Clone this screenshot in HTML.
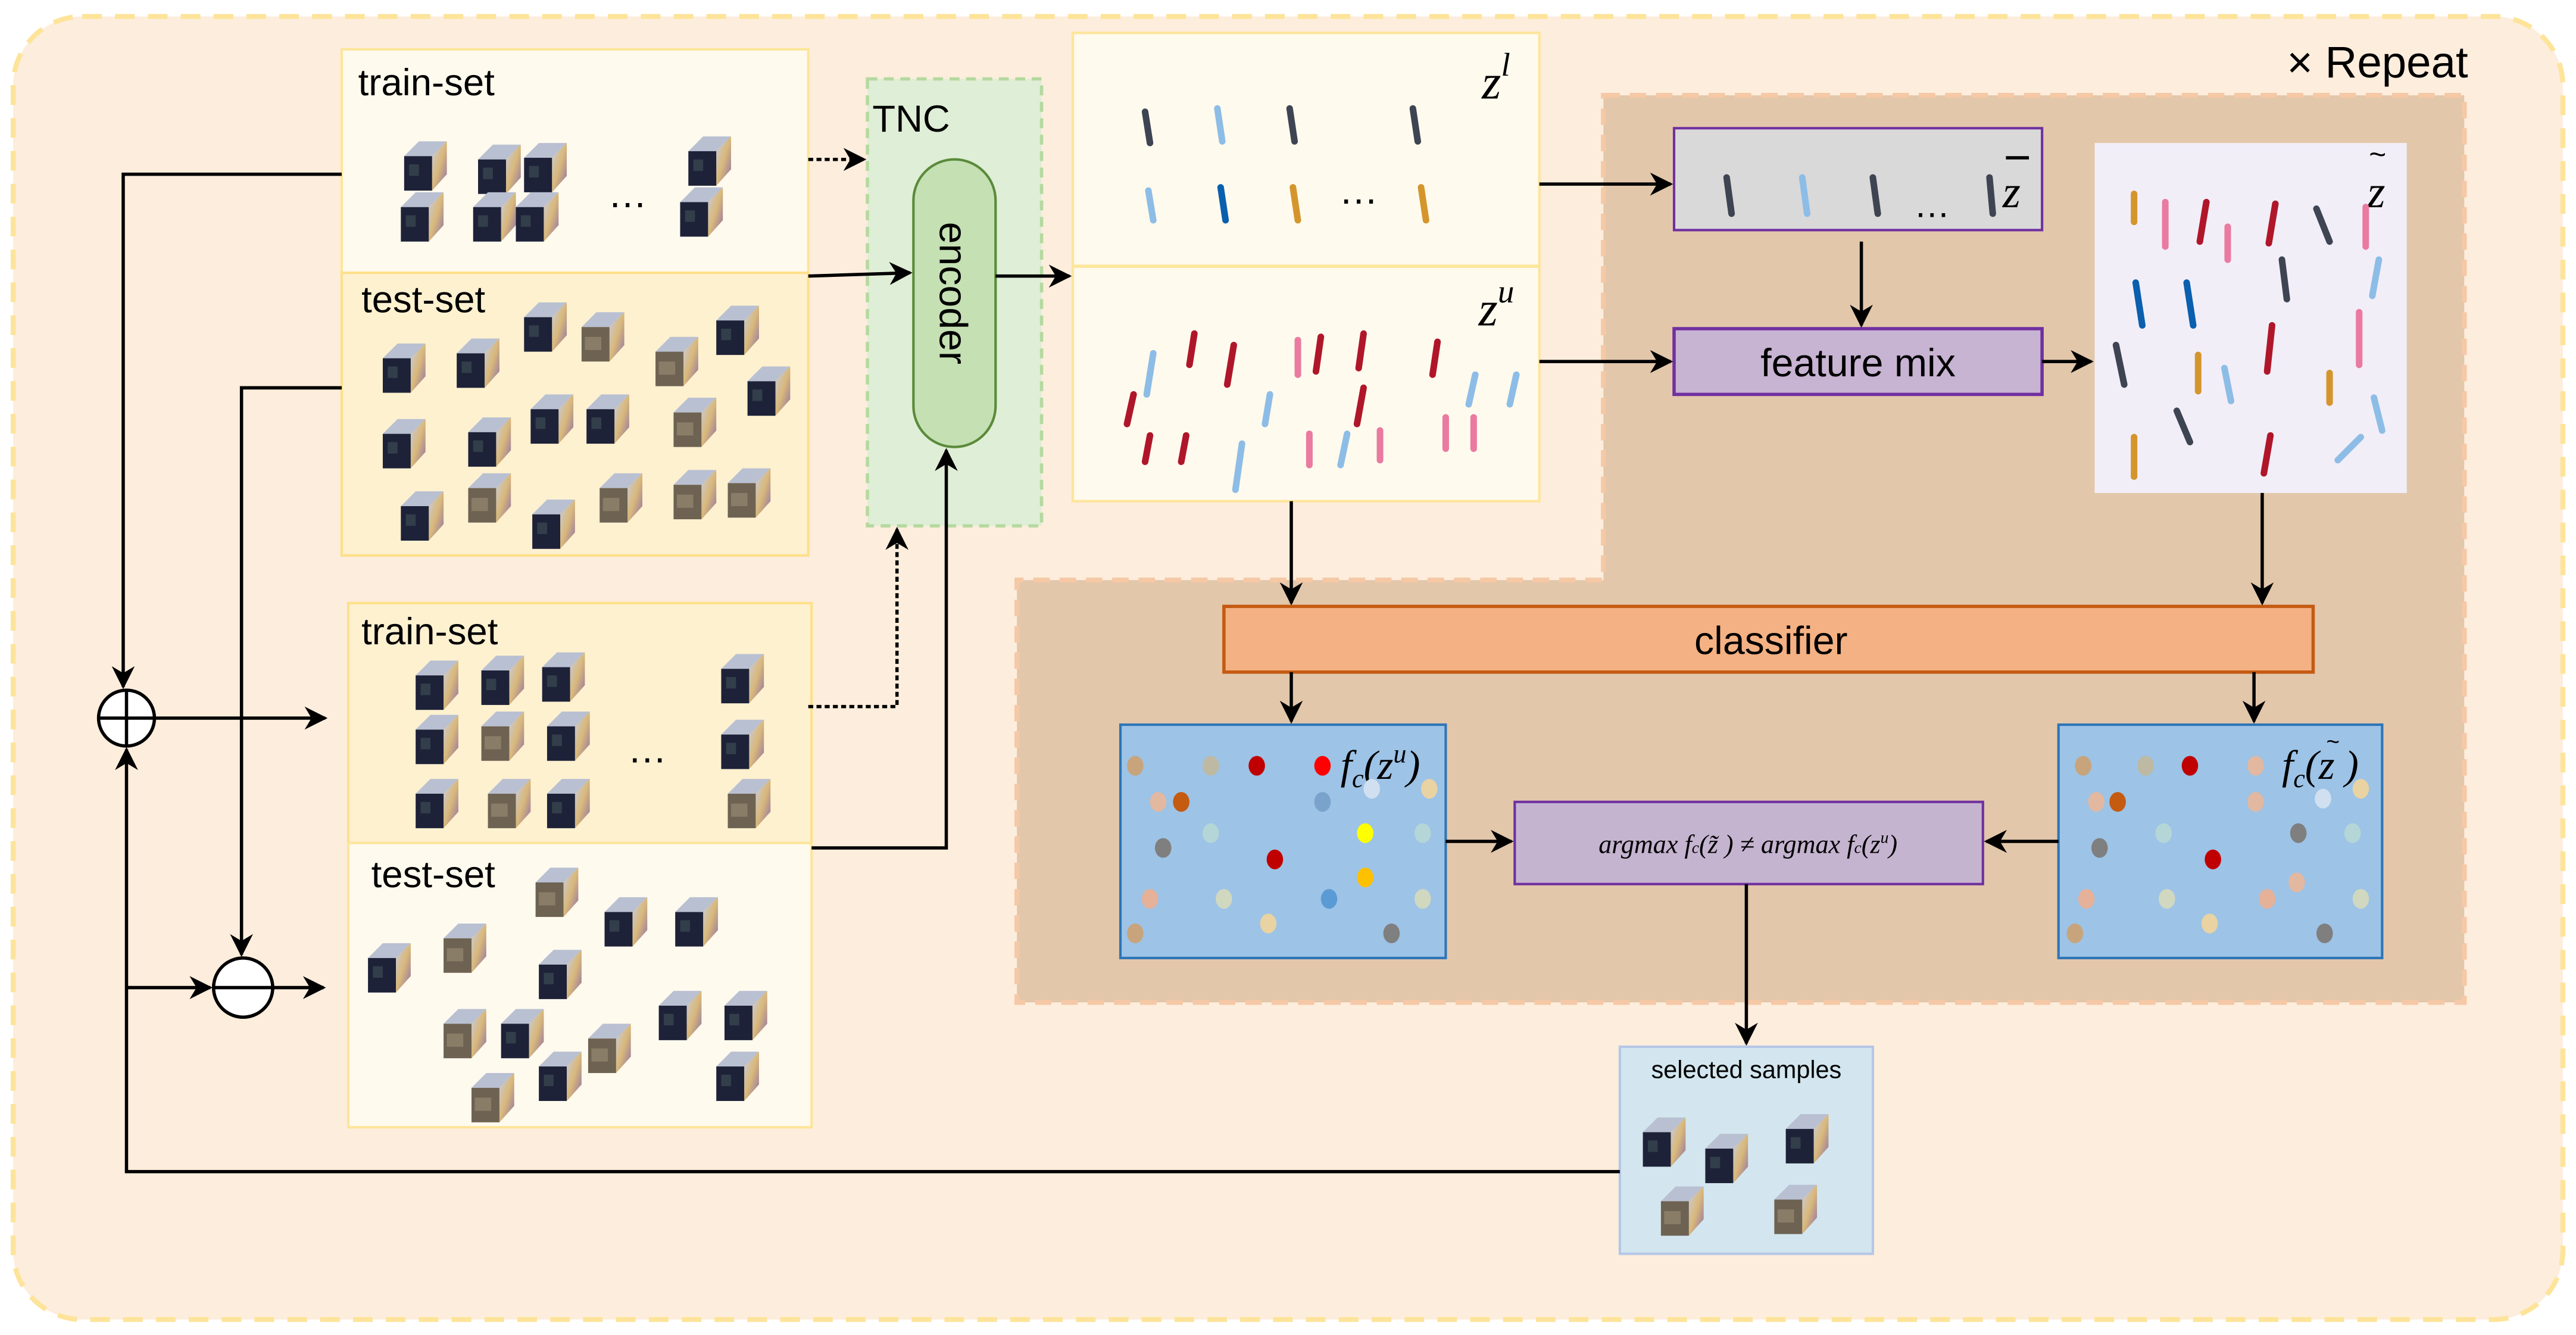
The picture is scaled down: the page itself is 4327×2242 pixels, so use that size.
<!DOCTYPE html>
<html><head><meta charset="utf-8">
<style>
html,body{margin:0;padding:0;background:#fff;}
svg{display:block;}
text{font-family:"Liberation Sans",sans-serif;}
.m{font-family:"Liberation Serif",serif;font-style:italic;}
</style></head>
<body>
<svg width="4327" height="2242" viewBox="0 0 1568 812.4" xmlns="http://www.w3.org/2000/svg">
<defs>
<linearGradient id="sg" x1="0" y1="0" x2="1" y2="1">
<stop offset="0" stop-color="#c8cde0"/><stop offset="0.5" stop-color="#d9b87a"/><stop offset="1" stop-color="#8c6ea8"/>
</linearGradient>
<symbol id="c" viewBox="0 0 26 30" overflow="visible">
<polygon points="0,9 9,0 26,0 17,9" fill="#b9c0d2"/>
<polygon points="17,9 26,0 26,20 17,30" fill="url(#sg)"/>
<rect x="0" y="9" width="17" height="21" fill="#1d2238"/>
<rect x="3" y="14" width="6" height="7" fill="#3c4a52" opacity="0.7"/>
</symbol>
<symbol id="cb" viewBox="0 0 26 30" overflow="visible">
<polygon points="0,9 9,0 26,0 17,9" fill="#b9c0d2"/>
<polygon points="17,9 26,0 26,20 17,30" fill="url(#sg)"/>
<rect x="0" y="9" width="17" height="21" fill="#6e6252"/>
<rect x="2" y="15" width="10" height="8" fill="#8a7d68"/>
</symbol>
<marker id="a" viewBox="0 0 10 10" refX="9" refY="5" markerWidth="7" markerHeight="7" orient="auto-start-reverse"><path d="M0,0 L10,5 L0,10 L3,5z" fill="#000"/></marker>
</defs>

<rect x="8" y="10" width="1552" height="793" rx="42" fill="#fdeddc" stroke="#fde49a" stroke-width="3" stroke-dasharray="12,8"/>
<text x="1392" y="47" font-size="27">× Repeat</text>

<path d="M976,58 H1500 V610 H619 V353 H976 Z" fill="#e2c7ab" stroke="#f5c8a6" stroke-width="3" stroke-dasharray="10,6"/>

<rect x="208" y="30" width="284" height="136" fill="#fffaee" stroke="#fde59a" stroke-width="1.5"/>
<text x="218" y="58" font-size="23">train-set</text>
<rect x="208" y="166" width="284" height="172" fill="#fef1d0" stroke="#fde08a" stroke-width="1.5"/>
<text x="220" y="190" font-size="23">test-set</text>
<rect x="212" y="367" width="282" height="146" fill="#fef1d0" stroke="#fde08a" stroke-width="1.5"/>
<text x="220" y="392" font-size="23">train-set</text>
<rect x="212" y="513" width="282" height="173" fill="#fffaee" stroke="#fde59a" stroke-width="1.5"/>
<text x="226" y="540" font-size="23">test-set</text>

<use href="#c" x="246" y="86" width="26" height="30"/>
<use href="#c" x="291" y="88" width="26" height="30"/>
<use href="#c" x="319" y="87" width="26" height="30"/>
<use href="#c" x="419" y="83" width="26" height="30"/>
<use href="#c" x="244" y="117" width="26" height="30"/>
<use href="#c" x="288" y="117" width="26" height="30"/>
<use href="#c" x="314" y="117" width="26" height="30"/>
<use href="#c" x="414" y="114" width="26" height="30"/>
<text x="370" y="126" font-size="24">…</text>
<use href="#c" x="233" y="209" width="26" height="30"/>
<use href="#c" x="278" y="206" width="26" height="30"/>
<use href="#c" x="319" y="184" width="26" height="30"/>
<use href="#cb" x="354" y="190" width="26" height="30"/>
<use href="#cb" x="399" y="205" width="26" height="30"/>
<use href="#c" x="436" y="186" width="26" height="30"/>
<use href="#c" x="233" y="255" width="26" height="30"/>
<use href="#c" x="285" y="254" width="26" height="30"/>
<use href="#c" x="323" y="240" width="26" height="30"/>
<use href="#c" x="357" y="240" width="26" height="30"/>
<use href="#cb" x="410" y="242" width="26" height="30"/>
<use href="#c" x="455" y="223" width="26" height="30"/>
<use href="#c" x="244" y="299" width="26" height="30"/>
<use href="#cb" x="285" y="288" width="26" height="30"/>
<use href="#c" x="324" y="304" width="26" height="30"/>
<use href="#cb" x="365" y="288" width="26" height="30"/>
<use href="#cb" x="410" y="286" width="26" height="30"/>
<use href="#cb" x="443" y="285" width="26" height="30"/>
<use href="#c" x="253" y="402" width="26" height="30"/>
<use href="#c" x="293" y="399" width="26" height="30"/>
<use href="#c" x="330" y="397" width="26" height="30"/>
<use href="#c" x="439" y="398" width="26" height="30"/>
<use href="#c" x="253" y="435" width="26" height="30"/>
<use href="#cb" x="293" y="433" width="26" height="30"/>
<use href="#c" x="333" y="433" width="26" height="30"/>
<use href="#c" x="439" y="438" width="26" height="30"/>
<use href="#c" x="253" y="474" width="26" height="30"/>
<use href="#cb" x="297" y="474" width="26" height="30"/>
<use href="#c" x="333" y="474" width="26" height="30"/>
<use href="#cb" x="443" y="474" width="26" height="30"/>
<text x="382" y="464" font-size="24">…</text>
<use href="#cb" x="326" y="528" width="26" height="30"/>
<use href="#c" x="368" y="546" width="26" height="30"/>
<use href="#c" x="411" y="546" width="26" height="30"/>
<use href="#c" x="224" y="574" width="26" height="30"/>
<use href="#cb" x="270" y="562" width="26" height="30"/>
<use href="#c" x="328" y="578" width="26" height="30"/>
<use href="#c" x="401" y="603" width="26" height="30"/>
<use href="#c" x="441" y="603" width="26" height="30"/>
<use href="#cb" x="270" y="614" width="26" height="30"/>
<use href="#c" x="305" y="614" width="26" height="30"/>
<use href="#cb" x="358" y="623" width="26" height="30"/>
<use href="#c" x="328" y="640" width="26" height="30"/>
<use href="#cb" x="287" y="653" width="26" height="30"/>
<use href="#c" x="436" y="640" width="26" height="30"/>

<rect x="528" y="48" width="106" height="272" fill="#dfeed6" stroke="#b5d9a0" stroke-width="2" stroke-dasharray="6,4"/>
<text x="531" y="80" font-size="23">TNC</text>
<rect x="556" y="97" width="50" height="175" rx="25" fill="#c5e0b3" stroke="#5a8a3a" stroke-width="1.5"/>
<text x="0" y="0" font-size="24" transform="translate(572,135) rotate(90)">encoder</text>

<rect x="653" y="20" width="284" height="285" fill="#fffaee" stroke="#fde59a" stroke-width="1.5"/>
<line x1="653" y1="162" x2="937" y2="162" stroke="#fde59a" stroke-width="2"/>
<text x="902" y="60" font-size="30" class="m">z<tspan font-size="20" dy="-14">l</tspan></text>
<text x="900" y="198" font-size="30" class="m">z<tspan font-size="20" dy="-14">u</tspan></text>
<text x="815" y="124" font-size="24">…</text>
<g stroke-width="4" stroke-linecap="round">
<line x1="697" y1="68" x2="700" y2="87" stroke="#3e4452"/>
<line x1="741" y1="66" x2="744" y2="86" stroke="#8dbde6"/>
<line x1="785" y1="66" x2="788" y2="86" stroke="#3e4452"/>
<line x1="860" y1="66" x2="863" y2="86" stroke="#3e4452"/>
<line x1="699" y1="116" x2="702" y2="134" stroke="#8dbde6"/>
<line x1="743" y1="114" x2="746" y2="134" stroke="#0a5fae"/>
<line x1="787" y1="114" x2="790" y2="134" stroke="#d4962c"/>
<line x1="865" y1="114" x2="868" y2="134" stroke="#d4962c"/>
<line x1="702" y1="215" x2="698" y2="240" stroke="#8dbde6"/>
<line x1="727" y1="203" x2="724" y2="222" stroke="#b0162a"/>
<line x1="751" y1="210" x2="747" y2="234" stroke="#b0162a"/>
<line x1="790" y1="207" x2="790" y2="228" stroke="#ea7aa0"/>
<line x1="804" y1="205" x2="801" y2="226" stroke="#b0162a"/>
<line x1="830" y1="203" x2="827" y2="224" stroke="#b0162a"/>
<line x1="875" y1="208" x2="872" y2="228" stroke="#b0162a"/>
<line x1="690" y1="240" x2="686" y2="258" stroke="#b0162a"/>
<line x1="773" y1="240" x2="770" y2="258" stroke="#8dbde6"/>
<line x1="830" y1="236" x2="826" y2="258" stroke="#b0162a"/>
<line x1="898" y1="228" x2="894" y2="246" stroke="#8dbde6"/>
<line x1="923" y1="228" x2="919" y2="246" stroke="#8dbde6"/>
<line x1="700" y1="265" x2="697" y2="281" stroke="#b0162a"/>
<line x1="722" y1="265" x2="719" y2="281" stroke="#b0162a"/>
<line x1="756" y1="270" x2="752" y2="298" stroke="#8dbde6"/>
<line x1="797" y1="264" x2="797" y2="283" stroke="#ea7aa0"/>
<line x1="820" y1="264" x2="816" y2="283" stroke="#8dbde6"/>
<line x1="840" y1="262" x2="840" y2="280" stroke="#ea7aa0"/>
<line x1="880" y1="254" x2="880" y2="273" stroke="#ea7aa0"/>
<line x1="897" y1="254" x2="897" y2="273" stroke="#ea7aa0"/>
</g>

<rect x="1019" y="78" width="224" height="62" fill="#d9d9d9" stroke="#7030a0" stroke-width="1.5"/>
<text x="1219" y="126" font-size="28" class="m">z</text>
<line x1="1221" y1="96" x2="1235" y2="96" stroke="#000" stroke-width="2"/>
<text x="1165" y="132" font-size="22">…</text>
<g stroke-width="4" stroke-linecap="round">
<line x1="1051" y1="108" x2="1054" y2="130" stroke="#3e4452"/>
<line x1="1097" y1="108" x2="1100" y2="130" stroke="#8dbde6"/>
<line x1="1140" y1="108" x2="1143" y2="130" stroke="#3e4452"/>
<line x1="1211" y1="108" x2="1213" y2="130" stroke="#3e4452"/>
</g>
<rect x="1019" y="200" width="224" height="40" fill="#c7b3d2" stroke="#7030a0" stroke-width="2"/>
<text x="1131" y="229" font-size="24" text-anchor="middle">feature mix</text>

<rect x="1275" y="87" width="190" height="213" fill="#f2eef8"/>
<text x="1441" y="126" font-size="28" class="m">z</text>
<text x="1442" y="100" font-size="18">~</text>
<g stroke-width="4" stroke-linecap="round">
<line x1="1299" y1="118" x2="1299" y2="135" stroke="#d4962c"/>
<line x1="1318" y1="123" x2="1318" y2="150" stroke="#ea7aa0"/>
<line x1="1343" y1="123" x2="1339" y2="147" stroke="#b0162a"/>
<line x1="1356" y1="138" x2="1356" y2="158" stroke="#ea7aa0"/>
<line x1="1385" y1="124" x2="1381" y2="148" stroke="#b0162a"/>
<line x1="1410" y1="127" x2="1418" y2="147" stroke="#3e4452"/>
<line x1="1440" y1="126" x2="1440" y2="150" stroke="#ea7aa0"/>
<line x1="1300" y1="172" x2="1304" y2="198" stroke="#0a5fae"/>
<line x1="1331" y1="172" x2="1335" y2="198" stroke="#0a5fae"/>
<line x1="1389" y1="158" x2="1392" y2="182" stroke="#3e4452"/>
<line x1="1448" y1="158" x2="1444" y2="180" stroke="#8dbde6"/>
<line x1="1288" y1="210" x2="1293" y2="234" stroke="#3e4452"/>
<line x1="1338" y1="216" x2="1338" y2="238" stroke="#d4962c"/>
<line x1="1354" y1="224" x2="1358" y2="244" stroke="#8dbde6"/>
<line x1="1383" y1="198" x2="1380" y2="226" stroke="#b0162a"/>
<line x1="1418" y1="227" x2="1418" y2="245" stroke="#d4962c"/>
<line x1="1436" y1="190" x2="1436" y2="222" stroke="#ea7aa0"/>
<line x1="1445" y1="242" x2="1450" y2="262" stroke="#8dbde6"/>
<line x1="1325" y1="250" x2="1333" y2="269" stroke="#3e4452"/>
<line x1="1299" y1="266" x2="1299" y2="290" stroke="#d4962c"/>
<line x1="1382" y1="265" x2="1378" y2="288" stroke="#b0162a"/>
<line x1="1423" y1="280" x2="1437" y2="266" stroke="#8dbde6"/>
</g>

<rect x="745" y="369" width="663" height="40" fill="#f4b183" stroke="#c55a11" stroke-width="2"/>
<text x="1078" y="398" font-size="24" text-anchor="middle">classifier</text>

<rect x="682" y="441" width="198" height="142" fill="#9dc3e6" stroke="#2e75b6" stroke-width="1.5"/>
<rect x="1253" y="441" width="197" height="142" fill="#9dc3e6" stroke="#2e75b6" stroke-width="1.5"/>
<text x="816" y="474" font-size="25" class="m">f<tspan font-size="16" dy="5">c</tspan><tspan dy="-5">(z</tspan><tspan font-size="16" dy="-10">u</tspan><tspan dy="10">)</tspan></text>
<text x="1389" y="474" font-size="25" class="m">f<tspan font-size="16" dy="5">c</tspan><tspan dy="-5">(z )</tspan></text>
<text x="1416" y="456" font-size="14">~</text>
<g>
<ellipse cx="691" cy="466" rx="5" ry="6" fill="#c8a47c"/>
<ellipse cx="737" cy="466" rx="5" ry="6" fill="#bdb9a2"/>
<ellipse cx="765" cy="466" rx="5" ry="6" fill="#c00000"/>
<ellipse cx="805" cy="466" rx="5" ry="6" fill="#ff0000"/>
<ellipse cx="705" cy="488" rx="5" ry="6" fill="#e2b8a0"/>
<ellipse cx="719" cy="488" rx="5" ry="6" fill="#c55a11"/>
<ellipse cx="805" cy="488" rx="5" ry="6" fill="#7aa3cc"/>
<ellipse cx="835" cy="480" rx="5" ry="6" fill="#d0e0f0"/>
<ellipse cx="870" cy="480" rx="5" ry="6" fill="#e9d3a2"/>
<ellipse cx="737" cy="507" rx="5" ry="6" fill="#b4d6d7"/>
<ellipse cx="831" cy="507" rx="5" ry="6" fill="#ffff00"/>
<ellipse cx="866" cy="507" rx="5" ry="6" fill="#b4d6d7"/>
<ellipse cx="708" cy="516" rx="5" ry="6" fill="#7f7f7f"/>
<ellipse cx="776" cy="523" rx="5" ry="6" fill="#c00000"/>
<ellipse cx="831" cy="534" rx="5" ry="6" fill="#ffc000"/>
<ellipse cx="700" cy="547" rx="5" ry="6" fill="#e6b199"/>
<ellipse cx="745" cy="547" rx="5" ry="6" fill="#d1d8c0"/>
<ellipse cx="809" cy="547" rx="5" ry="6" fill="#5b9bd5"/>
<ellipse cx="866" cy="547" rx="5" ry="6" fill="#d1d8c0"/>
<ellipse cx="691" cy="568" rx="5" ry="6" fill="#c8a47c"/>
<ellipse cx="772" cy="562" rx="5" ry="6" fill="#e9d3a2"/>
<ellipse cx="847" cy="568" rx="5" ry="6" fill="#7f7f7f"/>
</g>
<g>
<ellipse cx="1268" cy="466" rx="5" ry="6" fill="#c8a47c"/>
<ellipse cx="1306" cy="466" rx="5" ry="6" fill="#bdb9a2"/>
<ellipse cx="1333" cy="466" rx="5" ry="6" fill="#c00000"/>
<ellipse cx="1373" cy="466" rx="5" ry="6" fill="#e2b8a0"/>
<ellipse cx="1276" cy="488" rx="5" ry="6" fill="#e2b8a0"/>
<ellipse cx="1289" cy="488" rx="5" ry="6" fill="#c55a11"/>
<ellipse cx="1373" cy="488" rx="5" ry="6" fill="#e2b8a0"/>
<ellipse cx="1414" cy="486" rx="5" ry="6" fill="#d0e0f0"/>
<ellipse cx="1437" cy="480" rx="5" ry="6" fill="#e9d3a2"/>
<ellipse cx="1317" cy="507" rx="5" ry="6" fill="#b4d6d7"/>
<ellipse cx="1399" cy="507" rx="5" ry="6" fill="#7f7f7f"/>
<ellipse cx="1432" cy="507" rx="5" ry="6" fill="#b4d6d7"/>
<ellipse cx="1278" cy="516" rx="5" ry="6" fill="#7f7f7f"/>
<ellipse cx="1347" cy="523" rx="5" ry="6" fill="#c00000"/>
<ellipse cx="1398" cy="537" rx="5" ry="6" fill="#e2b8a0"/>
<ellipse cx="1270" cy="547" rx="5" ry="6" fill="#e6b199"/>
<ellipse cx="1319" cy="547" rx="5" ry="6" fill="#d1d8c0"/>
<ellipse cx="1380" cy="547" rx="5" ry="6" fill="#e6b199"/>
<ellipse cx="1437" cy="547" rx="5" ry="6" fill="#d1d8c0"/>
<ellipse cx="1263" cy="568" rx="5" ry="6" fill="#c8a47c"/>
<ellipse cx="1345" cy="562" rx="5" ry="6" fill="#e9d3a2"/>
<ellipse cx="1415" cy="568" rx="5" ry="6" fill="#7f7f7f"/>
</g>

<rect x="922" y="488" width="285" height="50" fill="#c5b4d0" stroke="#7030a0" stroke-width="1.5"/>
<text x="1064" y="519" font-size="16" text-anchor="middle" class="m">argmax f<tspan font-size="10">c</tspan>(z̃ ) ≠ argmax f<tspan font-size="10">c</tspan>(z<tspan font-size="10" dy="-6">u</tspan><tspan dy="6">)</tspan></text>

<rect x="986" y="637" width="154" height="126" fill="#d3e6ef" stroke="#b4c7e7" stroke-width="1.5"/>
<text x="1063" y="656" font-size="15" text-anchor="middle">selected samples</text>
<use href="#c" x="1000" y="680" width="26" height="30"/>
<use href="#c" x="1038" y="690" width="26" height="30"/>
<use href="#c" x="1087" y="678" width="26" height="30"/>
<use href="#cb" x="1011" y="722" width="26" height="30"/>
<use href="#cb" x="1080" y="721" width="26" height="30"/>

<circle cx="77" cy="437" r="17" fill="#fff" stroke="#000" stroke-width="2"/>
<line x1="60" y1="437" x2="94" y2="437" stroke="#000" stroke-width="2"/>
<line x1="77" y1="420" x2="77" y2="454" stroke="#000" stroke-width="2"/>
<circle cx="148" cy="601" r="18" fill="#fff" stroke="#000" stroke-width="2"/>
<line x1="130" y1="601" x2="166" y2="601" stroke="#000" stroke-width="2"/>

<g fill="none" stroke="#000" stroke-width="2">
<polyline points="208,106 75,106 75,418" marker-end="url(#a)"/>
<polyline points="208,236 147,236 147,581" marker-end="url(#a)"/>
<line x1="94" y1="437" x2="198" y2="437" marker-end="url(#a)"/>
<line x1="166" y1="601" x2="197" y2="601" marker-end="url(#a)"/>
<polyline points="986,713 77,713 77,456" marker-end="url(#a)"/>
<line x1="77" y1="601" x2="128" y2="601" marker-end="url(#a)"/>
<line x1="492" y1="97" x2="526" y2="97" stroke-dasharray="3,2" marker-end="url(#a)"/>
<line x1="492" y1="168" x2="554" y2="166" marker-end="url(#a)"/>
<line x1="606" y1="168" x2="651" y2="168" marker-end="url(#a)"/>
<polyline points="492,430 546,430 546,322" stroke-dasharray="3,2" marker-end="url(#a)"/>
<polyline points="494,516 576,516 576,274" marker-end="url(#a)"/>
<line x1="937" y1="112" x2="1017" y2="112" marker-end="url(#a)"/>
<line x1="1133" y1="147" x2="1133" y2="198" marker-end="url(#a)"/>
<line x1="937" y1="220" x2="1017" y2="220" marker-end="url(#a)"/>
<line x1="1243" y1="220" x2="1273" y2="220" marker-end="url(#a)"/>
<line x1="786" y1="305" x2="786" y2="367" marker-end="url(#a)"/>
<line x1="1377" y1="300" x2="1377" y2="367" marker-end="url(#a)"/>
<line x1="786" y1="409" x2="786" y2="439" marker-end="url(#a)"/>
<line x1="1372" y1="409" x2="1372" y2="439" marker-end="url(#a)"/>
<line x1="880" y1="512" x2="920" y2="512" marker-end="url(#a)"/>
<line x1="1253" y1="512" x2="1209" y2="512" marker-end="url(#a)"/>
<line x1="1063" y1="538" x2="1063" y2="635" marker-end="url(#a)"/>
</g>
</svg>
</body></html>
